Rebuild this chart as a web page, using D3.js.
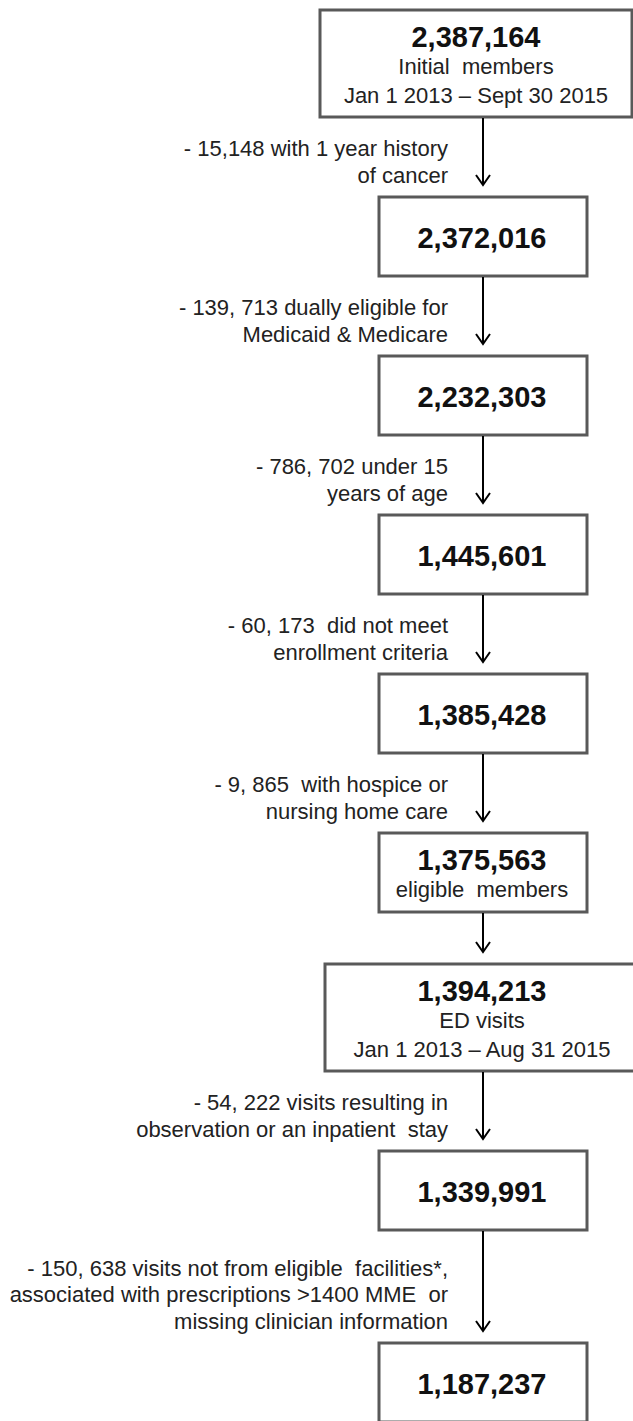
<!DOCTYPE html>
<html>
<head>
<meta charset="utf-8">
<script src="https://cdn.jsdelivr.net/npm/d3@7"></script>
<style>
    body { margin: 0; background: #fff; }
    svg { display: block; }
    text { white-space: pre; }
</style>
</head>
<body>
<div id="myDiv"></div>
<script>
// Counts shown in each box, top to bottom
var boxCounts = ["2,387,164", "2,372,016", "2,232,303", "1,445,601", "1,385,428",
    "1,375,563", "1,394,213", "1,339,991", "1,187,237"];

// Extra lines under the count in each box
var boxSubLines = [
    ["Initial  members", "Jan 1 2013 \u2013 Sept 30 2015"],
    [], [], [], [],
    ["eligible  members"],
    ["ED visits", "Jan 1 2013 \u2013 Aug 31 2015"],
    [], []
];

// Exclusion text beside each arrow (arrow i goes from box i to box i+1)
var exclusionLines = [
    ["- 15,148 with 1 year history", "of cancer"],
    ["- 139, 713 dually eligible for", "Medicaid & Medicare"],
    ["- 786, 702 under 15", "years of age"],
    ["- 60, 173  did not meet", "enrollment criteria"],
    ["- 9, 865  with hospice or", "nursing home care"],
    [],
    ["- 54, 222 visits resulting in", "observation or an inpatient  stay"],
    ["- 150, 638 visits not from eligible  facilities*,", "associated with prescriptions >1400 MME  or", "missing clinician information"]
];

// Boxes that are drawn wide (with date range)
var wideBoxes = [0, 6];

var width = 633, height = 1421;

var svg = d3.select("#myDiv")
    .append("svg")
    .attr("width", width)
    .attr("height", height);

// Build the vertical layout from the number of text lines
var nodes = [];
var y = 10;
boxCounts.forEach(function (c, i) {
    var lines = 1 + boxSubLines[i].length;
    var h = lines >= 3 ? 107 : 79;
    nodes.push({ count: c, sub: boxSubLines[i], top: y, h: h, wide: wideBoxes.indexOf(i) >= 0, i: i });
    if (i < exclusionLines.length) {
        var n = exclusionLines[i].length;
        var gap = n === 0 ? 52 : 14 + 33 * n;
        y += h + gap;
    }
});

var arrowX = 483;
var x = d3.scaleLinear().domain([0, width]).range([0, width]);

// Boxes
var boxes = svg.selectAll(".box")
    .data(nodes)
    .enter().append("g")
    .attr("class", "box");

boxes.append("rect")
    .attr("x", function (d) {
        if (d.wide) return d.i === 0 ? x(320) : x(325);
        return x(379);
    })
    .attr("y", function (d) { return d.top; })
    .attr("width", function (d) { return d.wide ? 312 : 208; })
    .attr("height", function (d) { return d.h; })
    .attr("fill", "#fff")
    .attr("stroke", "#595959")
    .attr("stroke-width", 3);

boxes.each(function (d) {
    var cx = d.i === 0 ? 476 : 482;
    var g = d3.select(this);
    var allLines = [d.count].concat(d.sub);
    allLines.forEach(function (t, j) {
        var cy = allLines.length === 1 ? d.top + d.h / 2 + 1 : d.top + 27 + 29 * j;
        g.append("text")
            .attr("x", cx)
            .attr("y", cy)
            .attr("dy", "0.35em")
            .attr("text-anchor", "middle")
            .attr("font-family", "'Liberation Sans', Arial, sans-serif")
            .attr("font-size", j === 0 ? "29px" : "22px")
            .attr("font-weight", j === 0 ? "bold" : "normal")
            .attr("fill", j === 0 ? "#111" : "#222")
            .text(t);
    });
});

// Arrows
var links = d3.range(nodes.length - 1).map(function (i) {
    return { from: nodes[i], to: nodes[i + 1], lines: exclusionLines[i] };
});

var arrows = svg.selectAll(".arrow")
    .data(links)
    .enter().append("g")
    .attr("class", "arrow");

arrows.append("line")
    .attr("x1", arrowX)
    .attr("x2", arrowX)
    .attr("y1", function (d) { return d.from.top + d.from.h + 1; })
    .attr("y2", function (d) { return d.to.top - 12; })
    .attr("stroke", "#000")
    .attr("stroke-width", 2);

arrows.append("path")
    .attr("d", function (d) {
        var tip = d.to.top - 12;
        return "M" + (arrowX - 7) + "," + (tip - 10) + "L" + arrowX + "," + tip + "L" + (arrowX + 7) + "," + (tip - 10);
    })
    .attr("fill", "none")
    .attr("stroke", "#000")
    .attr("stroke-width", 2);

// Exclusion labels, right aligned next to the arrow
arrows.each(function (d) {
    var tip = d.to.top - 12;
    var n = d.lines.length;
    var g = d3.select(this);
    d.lines.forEach(function (t, j) {
        g.append("text")
            .attr("x", 448)
            .attr("y", tip - 10 - (n - 1 - j) * 26.5)
            .attr("dy", "0.35em")
            .attr("text-anchor", "end")
            .attr("font-family", "'Liberation Sans', Arial, sans-serif")
            .attr("font-size", "22px")
            .attr("fill", "#222")
            .text(t);
    });
});
</script>
</body>
</html>
